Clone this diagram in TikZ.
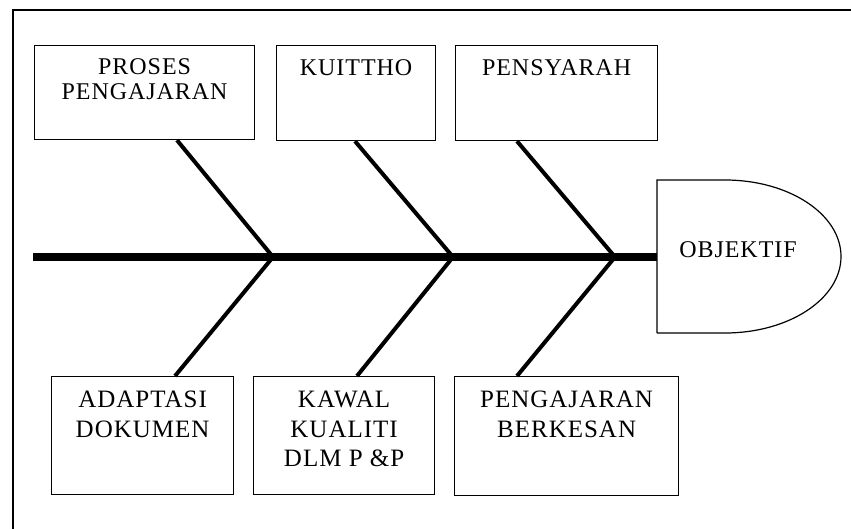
\documentclass[tikz,border=0pt]{standalone}
\usepackage{fontspec}
\setmainfont{Liberation Serif}
\newfontfamily\lblfont[LetterSpace=4]{Liberation Serif}
\begin{document}
\begin{tikzpicture}[x=1pt,y=-1pt,
  box/.style={draw, line width=1.2pt, inner sep=0pt, anchor=north west},
  toptxt/.style={font=\lblfont\fontsize{24}{25}\selectfont, align=center, anchor=north, inner sep=0pt},
  bottxt/.style={font=\lblfont\fontsize{25}{29.5}\selectfont, align=center, anchor=north, inner sep=0pt},
  bone/.style={line width=4pt},
  spine/.style={line width=8pt},
  frame/.style={line width=1.2pt}]
\useasboundingbox (0,0) rectangle (851,529);
% frame (top and left edges)
\coordinate (fa) at (851,10);
\coordinate (fb) at (13,10);
\coordinate (fc) at (13,529);
\draw[frame] (fa) -- (fb) -- (fc);
% top boxes
\node[box, minimum width=220pt, minimum height=94pt] (b1) at (34,45) {};
\node[box, minimum width=159pt, minimum height=95pt] (b2) at (276,45) {};
\node[box, minimum width=202pt, minimum height=95pt] (b3) at (455,45) {};
\node[toptxt] (t1) at ([yshift=-13pt]b1.north) {PROSES\\PENGAJARAN};
\node[toptxt] (t2) at ([yshift=-14pt]b2.north) {KUITTHO};
\node[toptxt] (t3) at ([yshift=-14pt]b3.north) {PENSYARAH};
% bottom boxes
\node[box, minimum width=182pt, minimum height=118pt] (b4) at (51,376) {};
\node[box, minimum width=181pt, minimum height=118pt] (b5) at (253,376) {};
\node[box, minimum width=224pt, minimum height=119pt] (b6) at (454,376) {};
\node[bottxt] (t4) at ([yshift=-15pt]b4.north) {ADAPTASI\\DOKUMEN};
\node[bottxt] (t5) at ([yshift=-15pt]b5.north) {KAWAL\\KUALITI\\DLM P \&P};
\node[bottxt] (t6) at ([yshift=-15pt]b6.north) {PENGAJARAN\\BERKESAN};
% objective head
\coordinate (oA) at (657,180);
\coordinate (oB) at (725,180);
\coordinate (oC) at (657,333);
\draw[line width=1.2pt] (oC) -- (oA) -- (oB) arc[start angle=90, end angle=-90, x radius=116pt, y radius=76.5pt] -- (oC);
\node[font=\lblfont\fontsize{24}{25}\selectfont, inner sep=0pt, anchor=base] (obj) at (738,258) {OBJEKTIF};
% spine
\coordinate (s0) at (33,257);
\coordinate (s1) at (657,257);
\coordinate (j1) at (273,257);
\coordinate (j2) at (453,257);
\coordinate (j3) at (615,257);
\draw[spine] (s0) -- (s1);
% bones
\draw[bone] ([xshift=143pt]b1.south west) -- (j1) -- ([xshift=124pt]b4.north west);
\draw[bone] ([xshift=79pt]b2.south west) -- (j2) -- ([xshift=104pt]b5.north west);
\draw[bone] ([xshift=62pt]b3.south west) -- (j3) -- ([xshift=63pt]b6.north west);
\end{tikzpicture}
\end{document}
